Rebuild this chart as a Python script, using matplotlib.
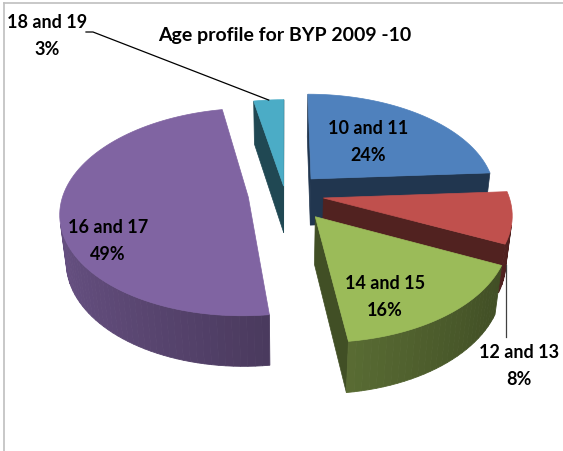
import numpy as np
import matplotlib.pyplot as plt
from matplotlib.patches import Polygon

# chart data
labels = ['10 and 11', '12 and 13', '14 and 15', '16 and 17', '18 and 19']
shares = [24, 8, 16, 49, 3]
colors = ['#4F81BD', '#C0504D', '#9BBB59', '#8064A2', '#4BACC6']
explode = [0.21, 0.21, 0.27, 0.20, 0.08]
title = 'Age profile for BYP 2009 -10'

# label text positions in pixels (centre of the two lines)
label_pos = [(368, 142), (519, 366), (385, 297), (108, 241), (47, 36)]

# fake 3d view of the pie
cx, cy = 285, 195
k = 185
alpha = np.radians(33)
sa, ca = np.sin(alpha), np.cos(alpha)
D = 5.9
H = 0.31
cam = np.array([0.0, -D * ca, D * sa])


def proj(X, Y, Z):
    v = Y * sa + Z * ca
    w = Y * ca - Z * sa
    s = D / (D + w)
    return cx + k * X * s, cy - k * v * s


def shade(color, f):
    rgb = np.array(plt.matplotlib.colors.to_rgb(color))
    return tuple(rgb * f)


def visible(n, p):
    return np.dot(n, cam - p) > 0


plt.rcParams['font.family'] = ['Lato', 'DejaVu Sans']

fig = plt.figure(figsize=(5.63, 4.52), dpi=100)
ax = fig.add_axes([0, 0, 1, 1])
ax.set_xlim(0, 563)
ax.set_ylim(452, 0)
ax.axis('off')

total = float(sum(shares))
bounds = np.concatenate([[0], np.cumsum(shares)]) / total * 2 * np.pi

slices = []
for i in range(len(shares)):
    t0, t1 = bounds[i], bounds[i + 1]
    mid = 0.5 * (t0 + t1)
    ox, oy = explode[i] * np.sin(mid), explode[i] * np.cos(mid)
    depth = (oy + 0.5 * np.cos(mid)) * ca
    slices.append((depth, i, t0, t1, mid, ox, oy))

# far slices first
for depth, i, t0, t1, mid, ox, oy in sorted(slices, reverse=True):
    col = colors[i]
    n_seg = max(4, int((t1 - t0) / np.radians(2)))
    th = np.linspace(t0, t1, n_seg + 1)
    dark = shade(col, 0.42)

    # radial faces
    for t, nrm in [(t0, (-np.cos(t0), np.sin(t0), 0)), (t1, (np.cos(t1), -np.sin(t1), 0))]:
        p = np.array([ox + 0.5 * np.sin(t), oy + 0.5 * np.cos(t), -H / 2])
        if visible(np.array(nrm), p):
            pts = [proj(ox, oy, 0), proj(ox + np.sin(t), oy + np.cos(t), 0),
                   proj(ox + np.sin(t), oy + np.cos(t), -H), proj(ox, oy, -H)]
            ax.add_patch(Polygon(pts, closed=True, fc=dark, ec=dark, lw=0.5))

    # outer wall
    for a, b in zip(th[:-1], th[1:]):
        m = 0.5 * (a + b)
        nrm = np.array([np.sin(m), np.cos(m), 0])
        p = np.array([ox + np.sin(m), oy + np.cos(m), -H / 2])
        if not visible(nrm, p):
            continue
        f = 0.6 - 0.2 * np.sin(m)
        c = shade(col, f)
        pts = [proj(ox + np.sin(a), oy + np.cos(a), 0), proj(ox + np.sin(b), oy + np.cos(b), 0),
               proj(ox + np.sin(b), oy + np.cos(b), -H), proj(ox + np.sin(a), oy + np.cos(a), -H)]
        ax.add_patch(Polygon(pts, closed=True, fc=c, ec=c, lw=0.6))

    # top face
    top = [proj(ox, oy, 0)] + [proj(ox + np.sin(t), oy + np.cos(t), 0) for t in th]
    ax.add_patch(Polygon(top, closed=True, fc=col, ec=col, lw=0.5))

# data labels
for i, (x, y) in enumerate(label_pos):
    ax.text(x, y, '%s\n%d%%' % (labels[i], shares[i]), ha='center', va='center',
            fontsize=13, fontweight='bold', linespacing=1.65, color='black')

# leader lines for the small slices
t0, t1 = bounds[4], bounds[5]
mid = 0.5 * (t0 + t1)
ex = explode[4]
end = proj(ex * np.sin(mid) + np.sin(mid), ex * np.cos(mid) + np.cos(mid), 0)
ax.plot([86, 93, end[0]], [33, 33, end[1]], color='black', lw=0.9)

t0, t1 = bounds[1], bounds[2]
mid = 0.5 * (t0 + t1)
ex = explode[1]
end = proj(ex * np.sin(mid) + np.sin(mid), ex * np.cos(mid) + np.cos(mid), -H)
ax.plot([end[0], end[0]], [end[1], 338], color='#404040', lw=0.9)

ax.text(285, 36, title, ha='center', va='center', fontsize=14, fontweight='bold')

# chart area border (only top and left show)
ax.plot([4, 563], [4, 4], color='#BFBFBF', lw=1.2)
ax.plot([4, 4], [4, 452], color='#BFBFBF', lw=1.2)

fig.savefig('out.png', dpi=100)
